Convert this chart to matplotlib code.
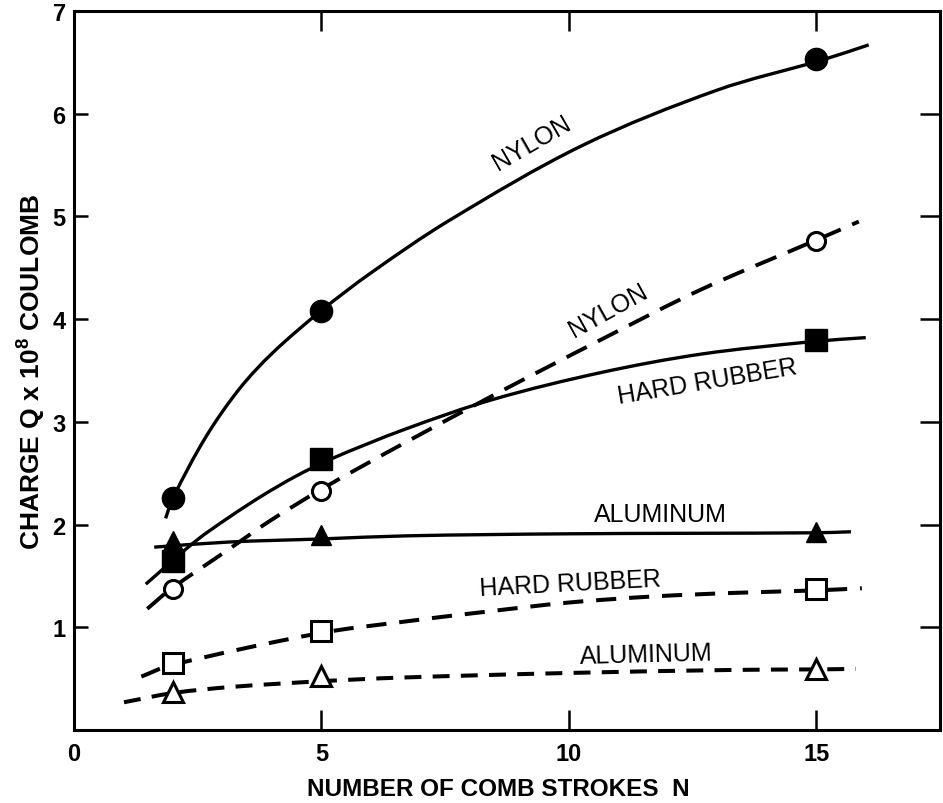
import matplotlib
matplotlib.use("Agg")
import matplotlib.pyplot as plt
from matplotlib.path import Path
from matplotlib.patches import PathPatch
import numpy as np

plt.rcParams['font.family'] = ['Liberation Sans', 'DejaVu Sans']
plt.rcParams['mathtext.fontset'] = 'custom'
plt.rcParams['mathtext.rm'] = 'Liberation Sans:bold'
plt.rcParams['mathtext.it'] = 'Liberation Sans:bold'
plt.rcParams['mathtext.bf'] = 'Liberation Sans:bold'

# ---- data ----
strokes = [2, 5, 15]

nylon_solid_pts = [2.26, 4.08, 6.53]
nylon_dash_pts = [1.37, 2.33, 4.76]
rubber_solid_pts = [1.65, 2.64, 3.80]
alum_solid_pts = [1.84, 1.90, 1.93]
rubber_dash_pts = [0.65, 0.96, 1.37]
alum_dash_pts = [0.37, 0.53, 0.59]

# hand-drawn curves
nylon_solid_x = [1.85, 2.0, 2.66, 3.34, 4.01, 4.99, 6.0, 7.58, 10.27, 13.0, 15.1, 16.06]
nylon_solid_y = [2.06, 2.26, 2.85, 3.32, 3.67, 4.08, 4.45, 4.96, 5.69, 6.23, 6.52, 6.67]

nylon_dash_x = [1.48, 1.95, 3.13, 3.94, 4.95, 5.83, 6.7, 8.48, 10.65, 12.68, 15.05, 15.86]
nylon_dash_y = [1.18, 1.37, 1.76, 2.03, 2.33, 2.57, 2.80, 3.26, 3.80, 4.29, 4.78, 4.95]

rubber_solid_x = [1.45, 2.46, 3.13, 3.8, 4.48, 5.2, 6.7, 8.48, 10.65, 12.68, 14.9, 16.0]
rubber_solid_y = [1.42, 1.84, 2.07, 2.28, 2.47, 2.64, 2.93, 3.22, 3.48, 3.66, 3.78, 3.82]

alum_solid_x = [1.62, 3.13, 5.0, 6.7, 10.0, 15.0, 15.7]
alum_solid_y = [1.78, 1.83, 1.86, 1.89, 1.91, 1.92, 1.93]

rubber_dash_x = [1.36, 1.95, 4.93, 6.59, 8.3, 9.98, 11.7, 13.35, 15.05, 15.92]
rubber_dash_y = [0.52, 0.63, 0.94, 1.05, 1.15, 1.24, 1.30, 1.335, 1.36, 1.38]

alum_dash_x = [1.01, 2.0, 3.2, 5.0, 6.59, 9.98, 13.35, 15.0, 15.8]
alum_dash_y = [0.27, 0.36, 0.42, 0.475, 0.51, 0.555, 0.585, 0.59, 0.595]

x_ticks = [0, 5, 10, 15]
y_ticks = [1, 2, 3, 4, 5, 6, 7]


def smooth_curve(ax, xs, ys, **kw):
    """Draw a smooth Bezier curve through the traced points."""
    P = np.column_stack([xs, ys]).astype(float)
    n = len(P)
    scale = np.array([1.0, 2.0])
    verts = [tuple(P[0])]
    codes = [Path.MOVETO]
    for i in range(n - 1):
        p0 = P[i - 1] if i > 0 else P[i]
        p1 = P[i]
        p2 = P[i + 1]
        p3 = P[i + 2] if i + 2 < n else P[i + 1]
        d01 = np.linalg.norm((p1 - p0) * scale)
        d12 = np.linalg.norm((p2 - p1) * scale)
        d23 = np.linalg.norm((p3 - p2) * scale)
        c1 = p1 + (p2 - p0) * d12 / (3 * (d01 + d12))
        c2 = p2 - (p3 - p1) * d12 / (3 * (d12 + d23))
        verts += [tuple(c1), tuple(c2), tuple(p2)]
        codes += [Path.CURVE4] * 3
    patch = PathPatch(Path(verts, codes), fill=False, capstyle='butt', **kw)
    ax.add_patch(patch)


fig = plt.figure(figsize=(9.43, 8.04), dpi=100)
ax = fig.add_axes([0.0785, 0.0908, 0.9183, 0.8943])
ax.set_xlim(0, 17.5)
ax.set_ylim(0, 7)

K = 'black'
# curves
smooth_curve(ax, nylon_solid_x, nylon_solid_y, edgecolor=K, lw=2.4)
smooth_curve(ax, rubber_solid_x, rubber_solid_y, edgecolor=K, lw=2.4)
smooth_curve(ax, alum_solid_x, alum_solid_y, edgecolor=K, lw=2.4)
smooth_curve(ax, nylon_dash_x, nylon_dash_y, edgecolor=K, lw=2.8, ls=(0, (5.8, 3.2)))
smooth_curve(ax, rubber_dash_x, rubber_dash_y, edgecolor=K, lw=2.9, ls=(0, (5.0, 3.2)))
smooth_curve(ax, alum_dash_x, alum_dash_y, edgecolor=K, lw=2.9, ls=(0, (4.2, 2.8)))

# markers
ax.plot(strokes, nylon_solid_pts, 'o', color=K, ms=16, zorder=5)
ax.plot(strokes, rubber_solid_pts, 's', color=K, ms=15.5, zorder=5)
ax.plot(strokes, alum_solid_pts, '^', color=K, ms=15, zorder=5)
ax.plot(strokes, nylon_dash_pts, 'o', mfc='white', mec=K, mew=2.2, ms=13, zorder=5)
ax.plot(strokes, rubber_dash_pts, 's', mfc='white', mec=K, mew=2.2, ms=14, zorder=5)
ax.plot(strokes, alum_dash_pts, '^', mfc='white', mec=K, mew=2.2, ms=14, zorder=5)

# curve labels
lab = dict(fontsize=18, color=K, ha='center', va='center', rotation_mode='anchor')
ax.text(9.25, 5.72, 'NYLON', rotation=30, **lab)
ax.text(10.8, 4.09, 'NYLON', rotation=29, **lab)
ax.text(12.8, 3.40, 'HARD RUBBER', rotation=9.5, **lab)
ax.text(11.85, 2.10, 'ALUMINUM', rotation=0, **lab)
ax.text(10.03, 1.43, 'HARD RUBBER', rotation=3, **lab)
ax.text(11.56, 0.74, 'ALUMINUM', rotation=1.5, **lab)

# axes styling
for s in ax.spines.values():
    s.set_linewidth(2.2)
ax.set_xticks(x_ticks)
ax.set_yticks(y_ticks)
ax.tick_params(axis='both', direction='in', width=1.8, labelsize=17,
               top=True, right=True, labeltop=False, labelright=False)
ax.tick_params(axis='x', length=14.5, pad=9)
ax.tick_params(axis='y', length=14.5, pad=6)
for t in ax.yaxis.get_major_ticks():
    t.tick1line.set_markersize(10)
for lbl in ax.get_xticklabels() + ax.get_yticklabels():
    lbl.set_fontweight('bold')

ax.set_xlabel('NUMBER OF COMB STROKES  N', fontsize=17.5, fontweight='bold')
ax.xaxis.set_label_coords(0.49, -0.066)
ax.set_ylabel(r'CHARGE Q x 10$^{8}$ COULOMB', fontsize=19, fontweight='bold')
ax.yaxis.set_label_coords(-0.03, 0.5)

fig.savefig('out.png', dpi=100)
